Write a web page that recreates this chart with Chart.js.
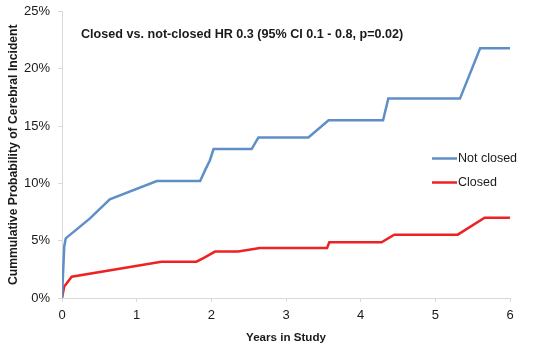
<!DOCTYPE html>
<html>
<head>
<meta charset="utf-8">
<title>Cumulative probability of cerebral incident</title>
<script src="https://cdn.jsdelivr.net/npm/chart.js@4.4.1/dist/chart.umd.min.js"></script>
<style>
  html, body { margin: 0; padding: 0; background: #fff; }
  canvas { display: block; }
</style>
</head>
<body>
<canvas id="chart" width="549" height="352"></canvas>
<script>
// Values: years in study vs cumulative probability (%)
const seriesNames = ['Not closed', 'Closed'];
const seriesColors = ['#5f8fc7', '#ee2222'];

const yearsNotClosed = [0, 0.03, 0.05, 0.375, 0.64, 1.27, 1.85, 1.92, 1.98, 2.03, 2.54, 2.63, 3.3, 3.57, 4.3, 4.37, 5.33, 5.6, 6.0];
const probNotClosed  = [0, 4.5, 5.2, 6.95, 8.6, 10.2, 10.2, 11.2, 12.0, 13.0, 13.0, 14.0, 14.0, 15.5, 15.5, 17.4, 17.4, 21.8, 21.8];

const yearsClosed = [0, 0.03, 0.13, 1.33, 1.8, 1.9, 2.05, 2.36, 2.65, 3.55, 3.58, 4.28, 4.45, 5.3, 5.66, 6.0];
const probClosed  = [0, 1.0, 1.86, 3.17, 3.17, 3.5, 4.05, 4.05, 4.36, 4.36, 4.86, 4.86, 5.53, 5.53, 7.0, 7.0];

const xTicks = [0, 1, 2, 3, 4, 5, 6];
const yTicks = [0, 5, 10, 15, 20, 25];

const titleText = 'Closed vs. not-closed HR 0.3 (95% CI 0.1 - 0.8, p=0.02)';

function toPoints(xs, ys) {
    return xs.map((x, i) => ({ x: x, y: ys[i] }));
}

const axisColor = '#d9d9d9';
const textColor = '#1a1a1a';

// Draws the in-plot heading and the legend on the right
const annotations = {
    id: 'annotations',
    afterDraw(chart) {
        const ctx = chart.ctx;
        const area = chart.chartArea;
        ctx.save();
        ctx.fillStyle = textColor;
        ctx.textBaseline = 'middle';
        ctx.textAlign = 'left';
        ctx.font = 'bold 12.6px "Liberation Sans", Arial, sans-serif';
        ctx.fillText(titleText, area.left + 19, area.top + 23.5);

        ctx.font = '12.5px "Liberation Sans", Arial, sans-serif';
        chart.data.datasets.forEach((ds, i) => {
            const y = area.top + 147 + i * 24;
            const x = area.right - 78;
            ctx.strokeStyle = ds.borderColor;
            ctx.lineWidth = 2.5;
            ctx.beginPath();
            ctx.moveTo(x, y);
            ctx.lineTo(x + 25, y);
            ctx.stroke();
            ctx.fillStyle = textColor;
            ctx.fillText(ds.label, x + 26, y + 0.5);
        });
        ctx.restore();
    }
};

const ctx = document.getElementById('chart').getContext('2d');
new Chart(ctx, {
    type: 'line',
    data: {
        datasets: [
            {
                label: seriesNames[0],
                data: toPoints(yearsNotClosed, probNotClosed),
                borderColor: seriesColors[0],
                borderWidth: 2.5,
                pointRadius: 0,
                tension: 0,
                fill: false
            },
            {
                label: seriesNames[1],
                data: toPoints(yearsClosed, probClosed),
                borderColor: seriesColors[1],
                borderWidth: 2.5,
                pointRadius: 0,
                tension: 0,
                fill: false
            }
        ]
    },
    options: {
        responsive: false,
        animation: false,
        layout: { padding: { top: 11.5, right: 39, left: 0, bottom: 0 } },
        plugins: {
            legend: { display: false },
            tooltip: { enabled: false }
        },
        scales: {
            x: {
                type: 'linear',
                min: 0,
                max: 6,
                afterFit(scale) {
                    scale.height = 54;
                    scale.paddingLeft = 0;
                    scale.paddingRight = 0;
                },
                afterBuildTicks(scale) { scale.ticks = xTicks.map(v => ({ value: v })); },
                border: { display: true, color: axisColor, width: 1 },
                grid: { drawOnChartArea: false, drawTicks: true, tickLength: 4, color: axisColor },
                ticks: {
                    padding: 6,
                    color: textColor,
                    font: { family: '"Liberation Sans", Arial, sans-serif', size: 13 }
                },
                title: {
                    display: true,
                    text: 'Years in Study',
                    color: textColor,
                    padding: { top: 0, bottom: 7 },
                    font: { family: '"Liberation Sans", Arial, sans-serif', size: 11.6, weight: 'bold' }
                }
            },
            y: {
                type: 'linear',
                min: 0,
                max: 25,
                afterFit(scale) {
                    // keep the plot top where the reference has it, the 25% label may overhang
                    scale.width = 62;
                    scale.paddingTop = 0;
                    scale.paddingBottom = 0;
                },
                afterBuildTicks(scale) { scale.ticks = yTicks.map(v => ({ value: v })); },
                border: { display: true, color: axisColor, width: 1 },
                grid: { drawOnChartArea: false, drawTicks: true, tickLength: 4, color: axisColor },
                ticks: {
                    padding: 8,
                    color: textColor,
                    font: { family: '"Liberation Sans", Arial, sans-serif', size: 13 },
                    callback: v => v + '%'
                },
                title: {
                    display: true,
                    text: 'Cummulative Probability of Cerebral Incident',
                    color: textColor,
                    padding: { top: 6, bottom: 0 },
                    font: { family: '"Liberation Sans", Arial, sans-serif', size: 12.2, weight: 'bold' }
                }
            }
        }
    },
    plugins: [annotations]
});
</script>
</body>
</html>
